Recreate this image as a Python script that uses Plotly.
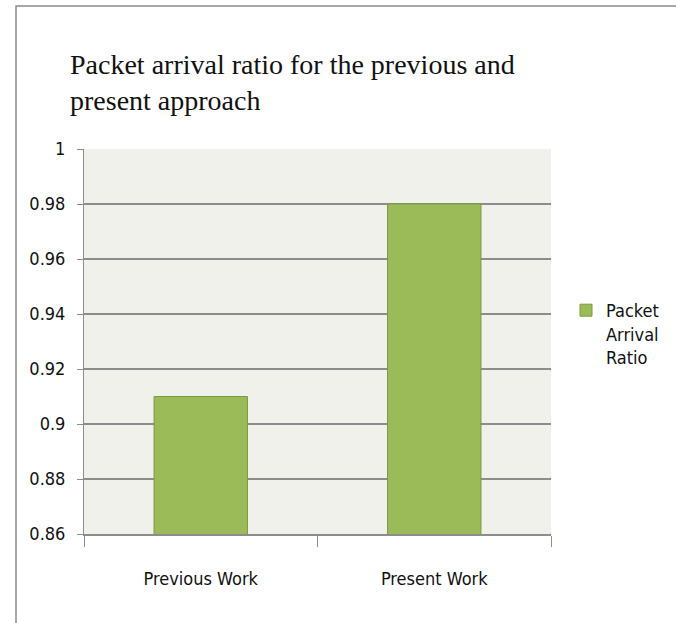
import plotly.graph_objects as go

categories = ["Previous Work", "Present Work"]
values = [0.91, 0.98]
series_name = "Packet<br>Arrival<br>Ratio"
y_ticks = [0.86, 0.88, 0.9, 0.92, 0.94, 0.96, 0.98, 1]
y_tick_labels = ["0.86", "0.88", "0.9", "0.92", "0.94", "0.96", "0.98", "1"]
title_text = "Packet arrival ratio for the previous and<br>present approach"

W, H = 676, 623
L, R, T, B = 84, 551, 149, 534

narrow = "DejaVu Sans Condensed, Liberation Sans Narrow, sans-serif"
serif = "Liberation Serif, Times New Roman, serif"

fig = go.Figure()
fig.add_trace(go.Bar(
    x=categories, y=values, name=series_name,
    width=0.4,
    marker=dict(color="#9BBB59", line=dict(color="#7A9A3E", width=1)),
    showlegend=True,
))

# outer chart border (pixel -> paper)
def px_x(p):
    return (p - L) / (R - L)

def px_y(p):
    return (B - p) / (B - T)

fig.add_shape(type="rect", xref="paper", yref="paper",
              x0=px_x(16), x1=px_x(700), y0=px_y(640), y1=px_y(6),
              line=dict(color="#8C8C8C", width=1.5), fillcolor="rgba(0,0,0,0)", layer="below")

fig.update_layout(
    width=W, height=H,
    margin=dict(l=L, r=W - R, t=T, b=H - B, pad=0),
    paper_bgcolor="white",
    plot_bgcolor="#EFF1EA",
    title=dict(text=title_text, x=70 / W, xanchor="left", y=1 - 74 / H, yanchor="top",
               font=dict(family=serif, size=28, color="#111111")),
    font=dict(family=narrow, size=18, color="#111111"),
    showlegend=True,
    legend=dict(xref="container", yref="container",
                x=566 / W, xanchor="left", y=1 - 292 / H, yanchor="top",
                font=dict(family=narrow, size=18, color="#111111"),
                itemwidth=30, bgcolor="rgba(0,0,0,0)", tracegroupgap=0,
                valign="top"),
    xaxis=dict(
        showgrid=False, showline=True, linecolor="#8C8C8C", linewidth=1.5,
        ticks="outside", tickson="boundaries", ticklen=11, tickcolor="#8C8C8C",
        tickfont=dict(family=narrow, size=18, color="#111111"),
        ticklabelstandoff=28,
    ),
    yaxis=dict(
        range=[0.86, 1.0], tickvals=y_ticks, ticktext=y_tick_labels,
        showgrid=True, gridcolor="#8C8C8C", gridwidth=1.5,
        showline=True, linecolor="#8C8C8C", linewidth=1,
        ticks="outside", ticklen=6, tickcolor="#8C8C8C",
        tickfont=dict(family=narrow, size=18, color="#111111"),
        ticklabelstandoff=8,
        zeroline=False,
    ),
)

fig.write_html("out.html")
